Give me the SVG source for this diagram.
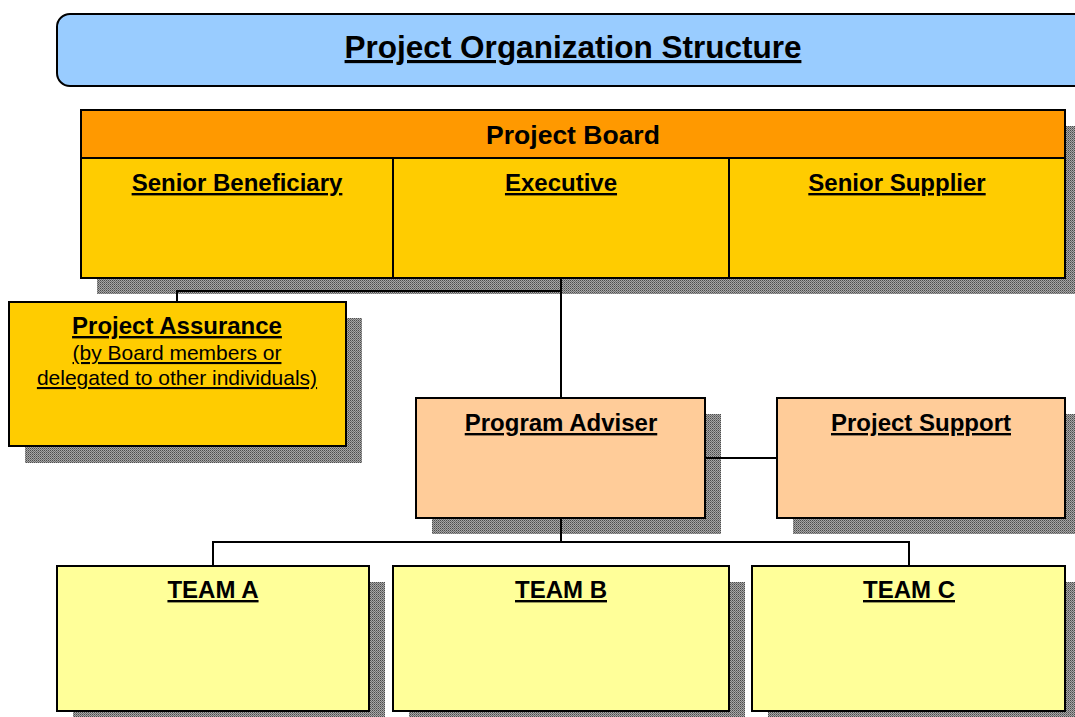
<svg xmlns="http://www.w3.org/2000/svg" width="1075" height="717" viewBox="0 0 1075 717">
<defs>
<pattern id="dots" width="2" height="2" patternUnits="userSpaceOnUse">
<rect width="2" height="2" fill="#a6a6a6"/>
<rect width="1" height="1" fill="#4c4c4c"/>
<rect x="1" y="1" width="1" height="1" fill="#707070"/>
</pattern>
</defs>
<style>
.sh{fill:url(#dots)}
.bx{stroke:#000;stroke-width:2}
.h{font-family:"Liberation Sans",Arial,sans-serif;font-weight:bold;font-size:24px;text-anchor:middle;text-decoration:underline;fill:#000}
.s{font-family:"Liberation Sans",Arial,sans-serif;font-size:21px;text-anchor:middle;text-decoration:underline;fill:#000}
.c{fill:none;stroke:#000;stroke-width:2}
</style>
<rect width="1075" height="717" fill="#fff"/>
<g id="title">
<rect x="57" y="14" width="1040" height="72" rx="13" fill="#99ccff" class="bx"/>
<text x="573" y="58" class="h" style="font-size:31.5px">Project Organization Structure</text>
</g>
<g id="project-board">
<rect x="97" y="126" width="984" height="168" class="sh"/>
<rect x="81" y="110" width="984" height="48" fill="#ff9900" class="bx"/>
<rect x="81" y="158" width="984" height="120" fill="#ffcc00" class="bx"/>
<line x1="393" y1="158" x2="393" y2="278" class="bx"/>
<line x1="729" y1="158" x2="729" y2="278" class="bx"/>
<text x="573" y="144" class="h" style="font-size:26.5px;text-decoration:none">Project Board</text>
</g>
<g id="senior-beneficiary"><text x="237" y="191" class="h">Senior Beneficiary</text></g>
<g id="executive"><text x="561" y="191" class="h">Executive</text></g>
<g id="senior-supplier"><text x="897" y="191" class="h">Senior Supplier</text></g>
<g id="project-assurance">
<rect x="25" y="318" width="337" height="145" class="sh"/>
<rect x="9" y="302" width="337" height="144" fill="#ffcc00" class="bx"/>
<text x="177" y="334" class="h">Project Assurance</text>
<text x="177" y="360" class="s">(by Board members or</text>
<text x="177" y="385" class="s">delegated to other individuals)</text>
</g>
<g id="program-adviser">
<rect x="432" y="414" width="289" height="120" class="sh"/>
<rect x="416" y="398" width="289" height="120" fill="#ffcc99" class="bx"/>
<text x="561" y="431" class="h">Program Adviser</text>
</g>
<g id="project-support">
<rect x="793" y="414" width="288" height="120" class="sh"/>
<rect x="777" y="398" width="288" height="120" fill="#ffcc99" class="bx"/>
<text x="921" y="431" class="h">Project Support</text>
</g>
<g id="team-a">
<rect x="73" y="582" width="312" height="145" class="sh"/>
<rect x="57" y="566" width="312" height="145" fill="#ffff99" class="bx"/>
<text x="213" y="598" class="h">TEAM A</text>
</g>
<g id="team-b">
<rect x="409" y="582" width="336" height="145" class="sh"/>
<rect x="393" y="566" width="336" height="145" fill="#ffff99" class="bx"/>
<text x="561" y="598" class="h">TEAM B</text>
</g>
<g id="team-c">
<rect x="768" y="582" width="313" height="145" class="sh"/>
<rect x="752" y="566" width="313" height="145" fill="#ffff99" class="bx"/>
<text x="909" y="598" class="h">TEAM C</text>
</g>
<g id="connectors">
<path class="c" d="M561 278 V398"/>
<path class="c" d="M561 291 H177 V302"/>
<path class="c" d="M705 458 H777"/>
<path class="c" d="M561 518 V542"/>
<path class="c" d="M213 566 V542 H909 V566"/>
</g>
</svg>
